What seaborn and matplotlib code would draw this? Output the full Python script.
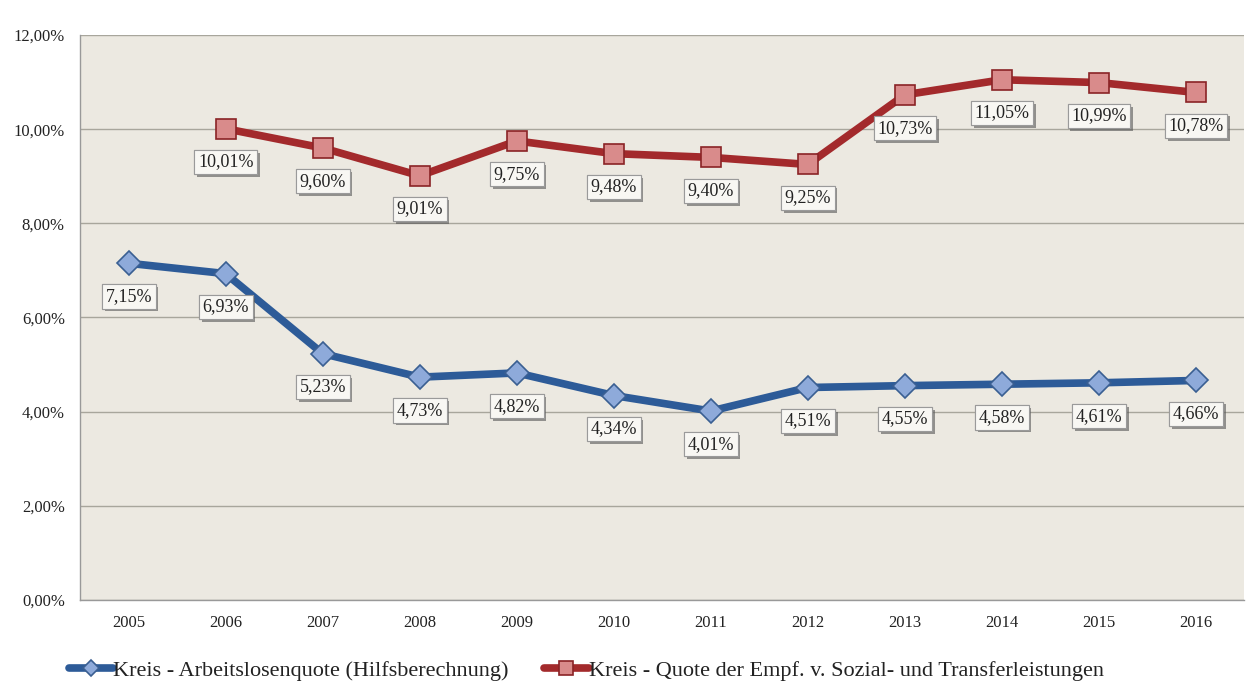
import matplotlib
matplotlib.use("Agg")
import matplotlib.pyplot as plt
import matplotlib.patheffects as pe
import seaborn as sns
import numpy as np
import pandas as pd

years = ["2005", "2006", "2007", "2008", "2009", "2010", "2011", "2012", "2013", "2014", "2015", "2016"]
arbeitslos = [7.15, 6.93, 5.23, 4.73, 4.82, 4.34, 4.01, 4.51, 4.55, 4.58, 4.61, 4.66]
sozial = [np.nan, 10.01, 9.60, 9.01, 9.75, 9.48, 9.40, 9.25, 10.73, 11.05, 10.99, 10.78]
label_a = "Kreis - Arbeitslosenquote (Hilfsberechnung)"
label_s = "Kreis - Quote der Empf. v. Sozial- und Transferleistungen"
yticks = [0, 2, 4, 6, 8, 10, 12]

sns.set_theme(style="white")
plt.rcParams['font.family'] = ['Liberation Serif', 'DejaVu Serif']

fig = plt.figure(figsize=(12.52, 6.87), dpi=100)
fig.patch.set_facecolor("white")
ax = fig.add_axes([0.064, 0.127, 0.930, 0.822])
ax.set_facecolor("#ECE9E1")

x = np.arange(len(years))
df_a = pd.DataFrame({"x": x, "y": arbeitslos})
df_s = pd.DataFrame({"x": x, "y": sozial})

blue = "#2D5B98"
red = "#A32A2C"
sns.lineplot(data=df_a, x="x", y="y", ax=ax, color=blue, linewidth=5.5,
             marker="D", markersize=12, markerfacecolor="#8EAADA",
             markeredgecolor="#3A5F92", markeredgewidth=1.2, label=label_a, zorder=3)
sns.lineplot(data=df_s, x="x", y="y", ax=ax, color=red, linewidth=5.5,
             marker="s", markersize=15, markerfacecolor="#D98B8B",
             markeredgecolor="#8A2326", markeredgewidth=1.2, label=label_s, zorder=3)

def fmt(v):
    return f"{v:.2f}%".replace(".", ",")

for series in (arbeitslos, sozial):
    for xi, v in zip(x, series):
        if np.isnan(v):
            continue
        t = ax.annotate(fmt(v), (xi, v), xytext=(0, -24), textcoords="offset points",
                        ha="center", va="center", fontsize=13, color="#222222", zorder=5,
                        bbox=dict(boxstyle="square,pad=0.2", facecolor="#F8F7F3",
                                  edgecolor="#9A9A9A", linewidth=0.8))
        t.get_bbox_patch().set_path_effects([pe.withSimplePatchShadow(offset=(2, -2), shadow_rgbFace="#555555", alpha=0.6), pe.Normal()])

ax.set_xlim(-0.5, len(years) - 0.5)
ax.set_ylim(0, 12)
ax.set_yticks(yticks)
ax.set_yticklabels([f"{v:.2f}%".replace(".", ",") for v in yticks], fontsize=12, color="#222222")
ax.set_xticks(x)
ax.set_xticklabels(years, fontsize=12, color="#222222")
ax.set_xticks(np.arange(-0.5, len(years), 1), minor=True)
ax.tick_params(axis="x", which="major", length=0, pad=11)
ax.tick_params(axis="x", which="minor", length=5, color="#999999", direction="out")
ax.tick_params(axis="y", which="major", length=5, color="#999999", direction="out", pad=6)
ax.grid(axis="y", color="#A8A69C", linewidth=1.0)
ax.set_axisbelow(True)
ax.set_xlabel("")
ax.set_ylabel("")
for side in ("top", "right"):
    ax.spines[side].set_visible(False)
for side in ("left", "bottom"):
    ax.spines[side].set_color("#999999")
    ax.spines[side].set_linewidth(1.0)

leg = ax.legend(loc="upper left", bbox_to_anchor=(-0.027, -0.072), ncol=2, frameon=False,
                fontsize=16, handlelength=2.0, handletextpad=0.0, columnspacing=1.6,
                markerscale=0.7)
for txt in leg.get_texts():
    txt.set_color("#222222")

fig.savefig("out.png", dpi=100, facecolor="white")
